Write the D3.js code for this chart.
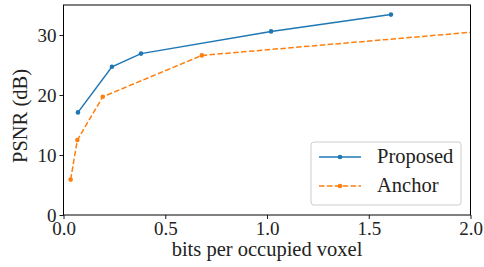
<!DOCTYPE html>
<html>
<head>
<meta charset="utf-8">
<script src="https://cdn.jsdelivr.net/npm/d3@7"></script>
<style>
  body { margin: 0; background: #fff; }
  svg text { font-family: "Liberation Serif", "DejaVu Serif", serif; fill: #222; }
</style>
</head>
<body>
<div id="chart"></div>
<script>
// values
const proposedRate = [0.071, 0.238, 0.381, 1.02, 1.609]
const proposedPsnr = [17.1, 24.7, 26.9, 30.6, 33.4]
const anchorRate   = [0.035, 0.068, 0.193, 0.68, 2.6]
const anchorPsnr   = [5.9, 12.5, 19.7, 26.6, 32.2]
const xTicks = [0, 0.5, 1.0, 1.5, 2.0]
const yTicks = [0, 10, 20, 30]
const seriesNames = ['Proposed', 'Anchor']

const W = 484, H = 267
const m = { left: 63.5, right: 13.5, top: 5, bottom: 52 }

const svg = d3.select('#chart').append('svg')
  .attr('width', W).attr('height', H)

const x = d3.scaleLinear().domain([0, 2]).range([m.left, W - m.right])
const y = d3.scaleLinear().domain([0, 35]).range([H - m.bottom, m.top])

svg.append('defs').append('clipPath').attr('id', 'plot-clip')
  .append('rect')
  .attr('x', m.left).attr('y', m.top)
  .attr('width', W - m.right - m.left).attr('height', H - m.bottom - m.top)

// Axes
const xAxis = svg.append('g')
  .attr('transform', `translate(0,${H - m.bottom})`)
  .call(d3.axisBottom(x).tickValues(xTicks).tickFormat(d3.format('.1f')).tickSizeOuter(0).tickSize(4).tickPadding(3))
const yAxis = svg.append('g')
  .attr('transform', `translate(${m.left},0)`)
  .call(d3.axisLeft(y).tickValues(yTicks).tickFormat(d3.format('d')).tickSizeOuter(0).tickSize(4).tickPadding(3))

;[xAxis, yAxis].forEach(a => {
  a.select('.domain').remove()
  a.selectAll('line').attr('stroke', '#000').attr('stroke-width', 0.9)
  a.selectAll('text').style('font-size', '19px').attr('fill', '#222')
})

// Series
const series = [
  { name: seriesNames[0], xs: proposedRate, ys: proposedPsnr, color: '#1f77b4', dash: null },
  { name: seriesNames[1], xs: anchorRate, ys: anchorPsnr, color: '#ff7f0e', dash: '5.5,2.4' },
]

const line = d3.line().x(d => x(d[0])).y(d => y(d[1]))
const plot = svg.append('g').attr('clip-path', 'url(#plot-clip)')

series.forEach(s => {
  const pts = s.xs.map((v, i) => [v, s.ys[i]])
  plot.append('path')
    .datum(pts)
    .attr('d', line)
    .attr('fill', 'none')
    .attr('stroke', s.color)
    .attr('stroke-width', 1.5)
    .attr('stroke-dasharray', s.dash)
  plot.selectAll(null)
    .data(pts).join('circle')
    .attr('cx', d => x(d[0])).attr('cy', d => y(d[1]))
    .attr('r', 2.3)
    .attr('fill', s.color)
})

// Frame
svg.append('rect')
  .attr('x', m.left).attr('y', m.top)
  .attr('width', W - m.right - m.left).attr('height', H - m.bottom - m.top)
  .attr('fill', 'none').attr('stroke', '#000').attr('stroke-width', 1)

// Axis labels
svg.append('text')
  .attr('x', (m.left + W - m.right) / 2).attr('y', 256)
  .attr('text-anchor', 'middle')
  .style('font-size', '20.5px')
  .text('bits per occupied voxel')

svg.append('text')
  .attr('transform', 'translate(27,116) rotate(-90)')
  .attr('text-anchor', 'middle')
  .style('font-size', '20.5px')
  .text('PSNR (dB)')

// Legend
const lg = svg.append('g').attr('transform', 'translate(311,142)')
lg.append('rect')
  .attr('width', 150).attr('height', 63)
  .attr('rx', 3)
  .attr('fill', '#fff').attr('fill-opacity', 0.8)
  .attr('stroke', '#ccc').attr('stroke-width', 1)

series.forEach((s, i) => {
  const yy = 15 + i * 29
  lg.append('line')
    .attr('x1', 8).attr('x2', 50).attr('y1', yy).attr('y2', yy)
    .attr('stroke', s.color).attr('stroke-width', 1.5)
    .attr('stroke-dasharray', s.dash)
  lg.append('circle').attr('cx', 29).attr('cy', yy).attr('r', 2.3).attr('fill', s.color)
  lg.append('text')
    .attr('x', 66).attr('y', yy + 6)
    .style('font-size', '20.5px')
    .text(s.name)
})
</script>
</body>
</html>
